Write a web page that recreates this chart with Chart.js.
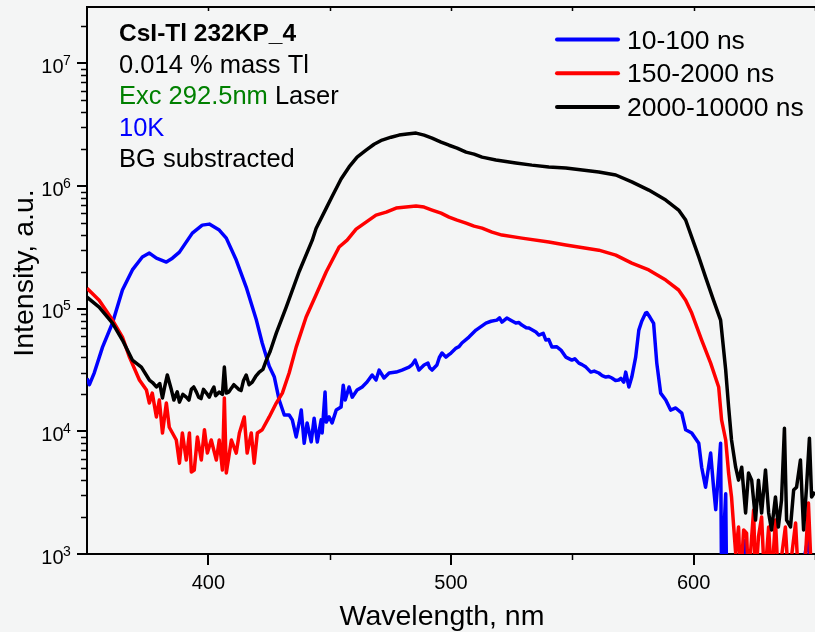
<!DOCTYPE html>
<html>
<head>
<meta charset="utf-8">
<script src="https://cdn.jsdelivr.net/npm/chart.js@4/dist/chart.umd.min.js"></script>
<style>
  html, body { margin: 0; padding: 0; background: #f4f5f5; }
  #wrap { width: 815px; height: 632px; }
</style>
</head>
<body>
<div id="wrap"><canvas id="chart" width="815" height="632"></canvas></div>
<script>
// series labels / colours
const seriesLabels = ['10-100 ns', '150-2000 ns', '2000-10000 ns'];
const seriesColors = ['#0000ff', '#ff0000', '#000000'];

// 10-100 ns
const blueNm = [350, 351, 353, 356.4, 360.5, 364.6, 368.7, 372.8, 375.7, 378.6, 382.7, 385.2, 388.1, 393.4, 397.5,
  400.4, 404.5, 407.4, 411.5, 415.6, 419.8, 422.2, 425.1, 427.2, 429.2, 431.3, 433.3, 434.6, 436.2, 437.4, 438.3,
  439.5, 440.7, 442.4, 443.6, 444.9, 446.5, 446.9, 448.1, 448.6, 449.8, 451.0, 452.7, 454.7, 455.6, 456.4, 458.0,
  459.3, 461.3, 463.4, 465.4, 467.5, 469.1, 470.4, 472.4, 474.5, 477.4, 479.8, 482.7, 484.0, 485.2, 486.8, 488.9,
  490.5, 491.2, 492.2, 494.2, 495.2, 496.3, 497.9, 499.0, 500.0, 502.1, 503.3, 504.5, 507.4, 510.3, 514.4, 516.5,
  518.9, 520.0, 521.0, 523.0, 524.8, 526.7, 528.0, 529.2, 531.0, 532.1, 535.0, 536.2, 538.0, 539.1, 540.3, 541.6,
  543.5, 545.3, 547.3, 549.8, 551.0, 552.7, 554.0, 555.6, 557.6, 559.0, 560.9, 562.3, 563.8, 565.0, 566.3, 567.8,
  569.1, 570.0, 571.2, 572.0, 573.3, 574.5, 576.1, 577.4, 578.6, 580.2, 580.7, 582.0, 583.5, 584.8, 586.4, 588.5,
  590.5, 592.6, 595.1, 596.7, 599.2, 602.1, 603.3, 604.9, 607.0, 608.2, 609.1, 611.1, 611.5, 613.2, 613.6, 616,
  619, 621.4, 623, 627, 632, 637, 642, 647.3, 648.5, 650];
const blueInt = [2.7e4, 2.4e4, 3.0e4, 4.86e4, 7.64e4, 1.42e5, 2.07e5, 2.64e5, 2.84e5, 2.58e5, 2.40e5, 2.58e5, 2.89e5, 4.13e5, 4.80e5,
  4.89e5, 4.37e5, 3.76e5, 2.49e5, 1.50e5, 8.07e4, 5.25e4, 3.40e4, 2.77e4, 1.80e4, 1.36e4, 1.36e4, 1.24e4, 9.0e3, 1.17e4, 1.49e4,
  8.0e3, 1.17e4, 8.2e3, 1.28e4, 8.2e3, 1.24e4, 9.7e3, 2.09e4, 1.19e4, 1.31e4, 1.17e4, 1.49e4, 1.58e4, 2.38e4, 1.80e4, 2.30e4,
  1.90e4, 2.17e4, 2.30e4, 2.52e4, 2.88e4, 2.62e4, 3.16e4, 2.72e4, 2.99e4, 3.04e4, 3.16e4, 3.34e4, 3.5e4, 3.81e4, 3.16e4, 3.47e4,
  3.6e4, 3.3e4, 3.16e4, 3.47e4, 4.0e4, 4.35e4, 4.03e4, 4.2e4, 4.35e4, 4.77e4, 4.9e4, 5.25e4, 5.87e4, 6.69e4, 7.63e4, 7.9e4,
  8.07e4, 8.4e4, 7.78e4, 8.38e4, 8.0e4, 7.63e4, 7.7e4, 7.35e4, 7.0e4, 6.95e4, 6.45e4, 6.09e4, 6.3e4, 5.55e4, 5.6e4, 4.86e4,
  4.9e4, 4.60e4, 4.03e4, 3.81e4, 3.9e4, 3.60e4, 3.5e4, 3.34e4, 3.04e4, 3.1e4, 2.99e4, 2.85e4, 2.77e4, 2.8e4, 2.72e4, 2.6e4,
  2.62e4, 2.7e4, 2.52e4, 3.04e4, 2.30e4, 2.77e4, 4.03e4, 6.69e4, 7.9e4, 9.2e4, 9.3e4, 8.5e4, 7.6e4, 3.6e4, 2.05e4, 1.80e4,
  1.49e4, 1.55e4, 1.41e4, 1.03e4, 9.7e3, 8.0e3, 5.1e3, 3.5e3, 6.65e3, 3.5e3, 2.3e3, 8.0e3, 600, 3.1e3, 500, 400,
  500, 1.3e3, 400, 500, 400, 500, 400, 1.4e3, 400, 500];

// 150-2000 ns
const redNm = [350, 355.0, 360.5, 364.6, 367.5, 371.6, 374.5, 375.7, 376.9, 378.6, 379.8, 381.1, 382.7, 383.9, 386.8,
  388.1, 389.3, 390.9, 392.2, 393.0, 394.2, 395.5, 397.1, 398.4, 399.6, 401.2, 403.3, 404.5, 405.8, 406.6, 407.4,
  409.5, 411.5, 412.8, 414.8, 416.0, 417.7, 418.9, 420.2, 422.2, 425.1, 428.0, 430.5, 433.3, 436.2, 440.3, 444.4,
  448.6, 453.9, 457.2, 460.9, 465.0, 469.1, 473.3, 477.4, 481.5, 485.6, 488.9, 492.2, 495.9, 499.2, 502.5, 506.2,
  509.5, 512.8, 516.9, 521.0, 529.2, 540.3, 547.3, 560.9, 567.9, 574.5, 581.5, 588.5, 593.8, 596.7, 599.2, 603.3,
  607.0, 610.3, 611.5, 613.2, 614.4, 615.6, 616.5, 617.3, 618.5, 619.3, 620.6, 621.8, 622.6, 624.7, 625.5, 626.7,
  628.0, 629.2, 630.9, 632.1, 633.7, 634.9, 637.8, 639.1, 642.0, 643.2, 645.7, 647.3, 648.6, 650];
const redInt = [1.47e5, 1.17e5, 8.07e4, 5.87e4, 4.03e4, 2.62e4, 2.17e4, 1.70e4, 2.05e4, 1.31e4, 1.80e4, 9.7e3, 1.70e4, 1.08e4, 8.5e3,
  5.5e3, 9.7e3, 5.83e3, 9.7e3, 4.66e3, 4.84e3, 9.0e3, 5.83e3, 1.03e4, 6.65e3, 8.5e3, 5.83e3, 8.5e3, 4.84e3, 1.87e4, 4.57e3,
  8.5e3, 6.65e3, 9.7e3, 1.31e4, 6.65e3, 9.7e3, 5.5e3, 9.7e3, 1.03e4, 1.31e4, 1.70e4, 2.05e4, 2.99e4, 4.86e4, 8.55e4, 1.3e5,
  2.0e5, 3.18e5, 3.62e5, 4.45e5, 5.08e5, 5.79e5, 6.12e5, 6.61e5, 6.73e5, 6.86e5, 6.73e5, 6.37e5, 6.01e5, 5.58e5, 5.27e5, 4.99e5,
  4.71e5, 4.54e5, 4.21e5, 3.98e5, 3.76e5, 3.49e5, 3.30e5, 3.00e5, 2.73e5, 2.35e5, 2.07e5, 1.71e5, 1.42e5, 1.17e5, 9.2e4, 5.55e4,
  3.60e4, 2.30e4, 1.24e4, 8.5e3, 4.57e3, 2.92e3, 1.66e3, 1.02e3, 1.66e3, 600, 1.57e3, 1.48e3, 600, 2.28e3, 600, 1.38e3,
  2.0e3, 600, 1.66e3, 600, 1.89e3, 600, 1.66e3, 600, 1.79e3, 600, 700, 2.6e3, 600, 800];

// 2000-10000 ns
const blackNm = [350, 355.0, 360.5, 364.6, 368.7, 372.4, 375.7, 377.0, 378.6, 380.0, 381.1, 382.0, 383.1, 384.8, 385.8,
  386.5, 387.2, 388.1, 389.5, 390.9, 392.0, 393.0, 394.0, 395.1, 396.0, 397.0, 398.0, 399.2, 400.4, 401.6, 402.3,
  403.0, 404.5, 405.8, 406.6, 407.4, 408.5, 409.5, 410.5, 411.5, 412.5, 413.5, 414.5, 415.6, 416.8, 418.1, 419.5,
  421.0, 422.5, 423.9, 425.5, 428.0, 432.1, 437.4, 442.8, 444.4, 448.6, 451.0, 454.7, 458.0, 461.3, 465.0, 468.3,
  471.6, 475.3, 478.6, 481.9, 485.6, 488.9, 492.2, 495.9, 499.2, 502.5, 506.2, 509.5, 512.8, 518.5, 526.7, 533.3,
  540.3, 547.3, 560.9, 567.9, 574.5, 581.5, 588.5, 593.8, 596.7, 599.2, 602.1, 604.9, 608.2, 611.1, 613.2, 614.4,
  615.6, 617.3, 618.5, 619.8, 621.4, 622.6, 623.9, 625.5, 626.7, 628.0, 629.6, 630.9, 632.1, 633.7, 634.9, 636.2,
  637.4, 638.3, 639.9, 641.2, 642.4, 644.0, 645.3, 646.5, 647.7, 648.6, 650];
const blackInt = [1.24e5, 1.03e5, 7.63e4, 5.55e4, 3.81e4, 3.34e4, 2.62e4, 2.5e4, 2.30e4, 2.45e4, 1.87e4, 2.3e4, 2.88e4, 2.17e4, 1.8e4,
  1.95e4, 2.1e4, 1.73e4, 2.0e4, 1.90e4, 1.8e4, 2.2e4, 2.3e4, 2.09e4, 1.9e4, 1.85e4, 2.2e4, 2.05e4, 1.9e4, 2.17e4, 2.3e4,
  1.95e4, 2.09e4, 2.0e4, 3.34e4, 2.05e4, 2.1e4, 2.25e4, 2.4e4, 2.30e4, 2.2e4, 2.15e4, 2.6e4, 2.88e4, 2.4e4, 2.52e4, 2.8e4,
  3.04e4, 3.2e4, 3.81e4, 4.5e4, 6.32e4, 1.03e5, 2.0e5, 3.6e5, 4.5e5, 6.6e5, 8.2e5, 1.14e6, 1.43e6, 1.72e6, 1.96e6, 2.19e6,
  2.37e6, 2.5e6, 2.60e6, 2.65e6, 2.70e6, 2.60e6, 2.46e6, 2.28e6, 2.15e6, 2.04e6, 1.89e6, 1.82e6, 1.72e6, 1.63e6, 1.54e6, 1.48e6,
  1.43e6, 1.40e6, 1.30e6, 1.23e6, 1.08e6, 9.27e5, 7.68e5, 6.37e5, 5.28e5, 3.83e5, 2.64e5, 1.81e5, 1.17e5, 8.07e4, 3.16e4, 1.58e4,
  8.5e3, 5.1e3, 4.0e3, 5.1e3, 2.16e3, 4.57e3, 4.0e3, 1.89e3, 4.0e3, 2.16e3, 4.84e3, 2.16e3, 1.57e3, 2.92e3, 1.66e3, 2.75e3,
  1.06e4, 1.89e3, 1.66e3, 3.32e3, 3.5e3, 5.83e3, 1.57e3, 3.5e3, 8.8e3, 2.92e3, 3.2e3];

// axes
const xMajorTicks = [400, 500, 600];
const xMinorTicks = [450, 550, 650];
const yMajorTicks = [1e3, 1e4, 1e5, 1e6, 1e7];
const xTitle = 'Wavelength, nm';
const yTitle = 'Intensity, a.u.';

// text block, top left
const noteLines = [
  [{ text: 'CsI-Tl 232KP_4', color: '#000', bold: true }],
  [{ text: '0.014 % mass Tl', color: '#000' }],
  [{ text: 'Exc 292.5nm', color: '#008000' }, { text: ' Laser', color: '#000' }],
  [{ text: '10K', color: '#0000ff' }],
  [{ text: 'BG substracted', color: '#000' }],
];

const FONT = '"Liberation Sans", Arial, sans-serif';
Chart.defaults.font.family = FONT;
Chart.defaults.color = '#000';

function toPoints(xs, ys) {
  return xs.map((x, i) => ({ x: x, y: ys[i] }));
}

const decor = {
  id: 'decor',
  afterDraw(chart) {
    const { ctx, chartArea: a, scales } = chart;
    const x = scales.x, y = scales.y;
    ctx.save();
    ctx.strokeStyle = '#000';

    // top frame line
    ctx.lineWidth = 2;
    ctx.beginPath();
    ctx.moveTo(a.left - 1, a.top);
    ctx.lineTo(a.right, a.top);
    ctx.stroke();

    ctx.lineWidth = 1.5;
    ctx.beginPath();
    // minor x ticks (bottom, outward)
    xMinorTicks.forEach(v => {
      const px = Math.round(x.getPixelForValue(v)) + 0.5;
      ctx.moveTo(px, a.bottom);
      ctx.lineTo(px, a.bottom + 6);
    });
    // small ticks on top frame (inward)
    xMajorTicks.concat(xMinorTicks).forEach(v => {
      const px = Math.round(x.getPixelForValue(v)) + 0.5;
      ctx.moveTo(px, a.top);
      ctx.lineTo(px, a.top + 4);
    });
    // minor y ticks
    for (let d = 1e3; d <= 1e7; d *= 10) {
      for (let k = 2; k <= 9; k++) {
        const v = k * d;
        if (v > y.max) break;
        const py = Math.round(y.getPixelForValue(v)) + 0.5;
        ctx.moveTo(a.left, py);
        ctx.lineTo(a.left - 6, py);
      }
    }
    ctx.stroke();

    // y tick labels: 10 with raised exponent
    ctx.fillStyle = '#000';
    ctx.textBaseline = 'alphabetic';
    yMajorTicks.forEach(v => {
      const py = y.getPixelForValue(v);
      ctx.font = '20px ' + FONT;
      ctx.textAlign = 'right';
      ctx.fillText('10', 63.5, py + 9.5);
      ctx.font = '14px ' + FONT;
      ctx.textAlign = 'left';
      ctx.fillText(String(Math.round(Math.log10(v))), 63, py + 1.5);
    });

    // axis titles
    ctx.font = '28.5px ' + FONT;
    ctx.textAlign = 'center';
    ctx.fillText(xTitle, 442, 625);
    ctx.save();
    ctx.translate(33, 273);
    ctx.rotate(-Math.PI / 2);
    ctx.fillText(yTitle, 0, 0);
    ctx.restore();

    // notes
    ctx.textAlign = 'left';
    noteLines.forEach((parts, i) => {
      let cx = 119;
      const by = 41 + i * 31.5;
      parts.forEach(p => {
        ctx.font = (p.bold ? 'bold 24.5px ' : '25.5px ') + FONT;
        ctx.fillStyle = p.color;
        ctx.fillText(p.text, cx, by);
        cx += ctx.measureText(p.text).width;
      });
    });

    // legend
    ctx.font = '26.5px ' + FONT;
    chart.data.datasets.forEach((ds, i) => {
      const ly = 39.5 + i * 33.7;
      ctx.strokeStyle = ds.borderColor;
      ctx.lineWidth = 4;
      ctx.lineCap = 'round';
      ctx.beginPath();
      ctx.moveTo(557, ly);
      ctx.lineTo(618, ly);
      ctx.stroke();
      ctx.fillStyle = '#000';
      ctx.fillText(ds.label, 627, ly + 9);
    });
    ctx.restore();
  }
};

const datasets = [
  { label: seriesLabels[0], data: toPoints(blueNm, blueInt), borderColor: seriesColors[0], order: 3 },
  { label: seriesLabels[1], data: toPoints(redNm, redInt), borderColor: seriesColors[1], order: 2 },
  { label: seriesLabels[2], data: toPoints(blackNm, blackInt), borderColor: seriesColors[2], order: 1 },
].map(d => Object.assign(d, {
  borderWidth: 3.5,
  pointRadius: 0,
  tension: 0,
  borderJoinStyle: 'round',
  fill: false,
}));

new Chart(document.getElementById('chart'), {
  type: 'line',
  data: { datasets: datasets },
  options: {
    responsive: false,
    animation: false,
    devicePixelRatio: 1,
    layout: { padding: { top: 7, right: 0, bottom: 0, left: 0 } },
    plugins: { legend: { display: false }, tooltip: { enabled: false } },
    scales: {
      x: {
        type: 'linear',
        min: 350,
        max: 650,
        afterBuildTicks: s => { s.ticks = xMajorTicks.map(v => ({ value: v })); },
        afterFit: s => { s.height = 78; },
        ticks: { font: { size: 20 }, padding: 6, maxRotation: 0, callback: v => String(v) },
        grid: { drawOnChartArea: false, tickLength: 11, color: '#000', lineWidth: 2 },
        border: { display: true, color: '#000', width: 2 },
      },
      y: {
        type: 'logarithmic',
        min: 1e3,
        max: 2.88e7,
        afterBuildTicks: s => { s.ticks = yMajorTicks.map(v => ({ value: v })); },
        afterFit: s => { s.width = 87; },
        ticks: { display: false },
        grid: { drawOnChartArea: false, tickLength: 10, color: '#000', lineWidth: 2 },
        border: { display: true, color: '#000', width: 2 },
      },
    },
  },
  plugins: [decor],
});
</script>
</body>
</html>
